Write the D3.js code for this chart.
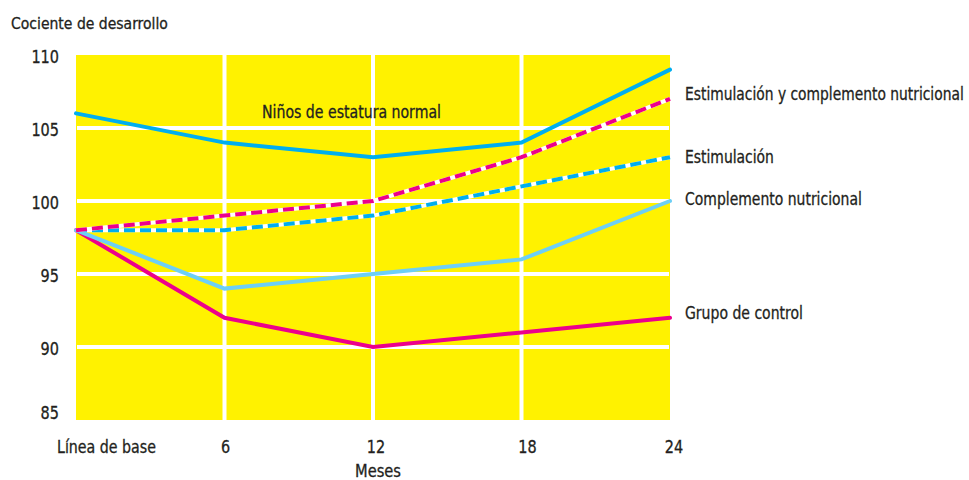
<!DOCTYPE html>
<html><head><meta charset="utf-8">
<script src="https://cdn.jsdelivr.net/npm/d3@7"></script>
<style>
body{margin:0;background:#fff;}
text{font-family:"DejaVu Sans Condensed","DejaVu Sans",sans-serif;font-stretch:condensed;fill:#231F20;stroke:#231F20;stroke-width:0.3px;}
</style></head>
<body><svg id="c" width="969" height="480"></svg>
<script>
const months = ["Línea de base","6","12","18","24"];
const monthValues = [0,6,12,18,24];
const yTicks = [85,90,95,100,105,110];
const normal = [106,104,103,104,109];
const estimComp = [98,99,100,103,107];
const estim = [98,98,99,101,103];
const comp = [98,94,95,96,100];
const control = [98,92,90,91,92];

const svg = d3.select("#c");
const x = d3.scaleLinear().domain([0,24]).range([76,670]);
const y = d3.scaleLinear().domain([85,110]).range([420,55]);

// text placed at (px,py), horizontally scaled to width w
function txt(px,py,s,size,anchor,w){
  const g = svg.append("g").attr("transform",`translate(${px},${py})`);
  const t = g.append("text").attr("x",0).attr("y",0).attr("font-size",size)
    .attr("text-anchor",anchor||"start").text(s);
  if(w){
    const nat = t.node().getComputedTextLength();
    if(nat>0) t.attr("transform",`scale(${w/nat},1)`);
  }
  return t;
}

svg.append("rect").attr("x",x(0)).attr("y",y(110)).attr("width",x(24)-x(0)).attr("height",y(85)-y(110)).attr("fill","#FFF200");

// grid
svg.selectAll(".hg").data([90,95,100,105]).enter().append("line")
  .attr("x1",x(0)+1).attr("x2",x(24)-1).attr("y1",d=>y(d)).attr("y2",d=>y(d))
  .attr("stroke","#fff").attr("stroke-width",4);
svg.selectAll(".vg").data([6,12,18]).enter().append("line")
  .attr("x1",d=>x(d)).attr("x2",d=>x(d)).attr("y1",y(110)).attr("y2",y(85))
  .attr("stroke","#fff").attr("stroke-width",4);

// y axis labels
yTicks.forEach(v=>{
  const s = String(v);
  txt(59, Math.min(y(v)+8,419), s, 18, "end", s.length*9.2);
});

// x labels
txt(57,453,months[0],18,"start",99);
const xOff = [0,1,3,6,4];
months.forEach((m,i)=>{ if(i>0) txt(x(monthValues[i])+xOff[i],453,m,18,"middle",m.length*9.2); });
txt(378,477,"Meses",18,"middle",46);
txt(11,29,"Cociente de desarrollo",16,"start",157);

const line = d3.line().x((d,i)=>x(monthValues[i])).y(d=>y(d));
function draw(data,color,dashed){
  if(dashed){
    svg.append("path").attr("d",line(data)).attr("fill","none").attr("stroke","#fff").attr("stroke-width",4);
    svg.append("path").attr("d",line(data)).attr("fill","none").attr("stroke",color).attr("stroke-width",4)
      .attr("stroke-dasharray","11,5");
  } else {
    svg.append("path").attr("d",line(data)).attr("fill","none").attr("stroke",color).attr("stroke-width",4).attr("stroke-linecap","round");
  }
}
draw(control,"#EC008C",false);
draw(comp,"#6DCFF6",false);
draw(estim,"#00AEEF",true);
draw(estimComp,"#EC008C",true);
draw(normal,"#00AEEF",false);

txt(262,118,"Niños de estatura normal",18,"start",179);
const labels = [
  {t:"Estimulación y complemento nutricional", y:100, w:279},
  {t:"Estimulación", y:163, w:89},
  {t:"Complemento nutricional", y:205, w:177},
  {t:"Grupo de control", y:319, w:118}
];
labels.forEach(l=>txt(685,l.y,l.t,18,"start",l.w));
</script></body></html>
